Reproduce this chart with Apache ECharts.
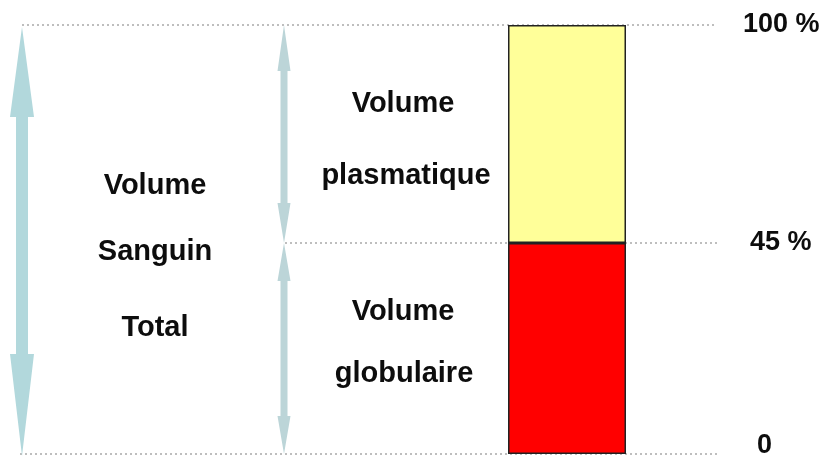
<!DOCTYPE html>
<html><head><meta charset="utf-8">
<script src="https://cdn.jsdelivr.net/npm/echarts@6/dist/echarts.min.js"></script>
<style>html,body{margin:0;padding:0;background:#fff}#c{width:833px;height:460px}</style>
</head><body><div id="c"></div>
<script>
// ---- data ----
const categories = ['Sang'];
const globulaireValues = [45];   // Volume globulaire (0 -> 45 %)
const plasmaBase = [45];         // start of plasma volume
const plasmaValues = [55];       // Volume plasmatique (45 -> 100 %)
const tickValues = [0, 45, 100];
const tickLabels = ['0', '45 %', '100 %'];
const totalLabel = ['Volume', 'Sanguin', 'Total'];
const plasmaLabel = ['Volume', 'plasmatique'];
const globLabel = ['Volume', 'globulaire'];

const FONT = '"Liberation Sans", Arial, sans-serif';
const chart = echarts.init(document.getElementById('c'));
const BAR_L = 508, BAR_R = 626, TOP = 25, MID = 243, BOT = 454;
const labelRich = {
  a: {fontFamily: FONT, fontWeight: 'bold', fontSize: 27, color: '#0d0d0d', padding: [0, 0, 0, 0]},
  b: {fontFamily: FONT, fontWeight: 'bold', fontSize: 27, color: '#0d0d0d', padding: [0, 0, 0, 7]},
  c: {fontFamily: FONT, fontWeight: 'bold', fontSize: 27, color: '#0d0d0d', padding: [0, 0, 16, 14]}
};
function fmt(v) {
  const i = tickValues.indexOf(v);
  if (i < 0) return '';
  const key = i === 2 ? 'a' : (i === 1 ? 'b' : 'c');
  return '{' + key + '|' + tickLabels[i] + '}';
}
const option = {
  animation: false,
  backgroundColor: '#fff',
  grid: [
    {left: BAR_L, right: 833 - BAR_R, top: TOP, height: MID - TOP},
    {left: BAR_L, right: 833 - BAR_R, top: MID, height: BOT - MID}
  ],
  xAxis: [
    {gridIndex: 0, type: 'category', data: categories, show: false},
    {gridIndex: 1, type: 'category', data: categories, show: false}
  ],
  yAxis: [
    {gridIndex: 0, type: 'value', min: 45, max: 100, interval: 5, position: 'right',
     axisLine: {show: false}, axisTick: {show: false}, splitLine: {show: false},
     axisLabel: {margin: 117, align: 'left', showMinLabel: false,
       formatter: v => v === tickValues[2] ? fmt(v) : '', rich: labelRich}},
    {gridIndex: 1, type: 'value', min: 0, max: 45, interval: 45, position: 'right',
     axisLine: {show: false}, axisTick: {show: false}, splitLine: {show: false},
     axisLabel: {margin: 117, align: 'left', formatter: fmt, rich: labelRich}}
  ],
  series: [
    {type: 'bar', name: 'base', xAxisIndex: 0, yAxisIndex: 0, stack: 'p', data: plasmaBase,
     barWidth: '100%', itemStyle: {color: 'rgba(0,0,0,0)'}, silent: true},
    {type: 'bar', name: 'Volume plasmatique', xAxisIndex: 0, yAxisIndex: 0, stack: 'p', data: plasmaValues,
     barWidth: '100%', itemStyle: {color: '#ffff99', borderColor: '#222', borderWidth: 1.5}},
    {type: 'bar', name: 'Volume globulaire', xAxisIndex: 1, yAxisIndex: 1, data: globulaireValues,
     barWidth: '100%', itemStyle: {color: '#ff0000', borderColor: '#222', borderWidth: 1.5}}
  ]
};
chart.setOption(option);

const y100 = chart.convertToPixel({yAxisIndex: 0}, 100);
const y45 = chart.convertToPixel({yAxisIndex: 1}, 45);
const y0 = chart.convertToPixel({yAxisIndex: 1}, 0);

function dotted(x1, x2, y) {
  return {type: 'line', z: 0, shape: {x1: x1, y1: y, x2: x2, y2: y},
    style: {stroke: '#a9a9a9', lineWidth: 1.6, lineDash: [2, 3]}};
}
function arrow(cx, yTop, yBot, shaftHalf, headHalf, headTop, headBot, fill) {
  return {type: 'polygon', z: 1, shape: {points: [
    [cx, yTop], [cx + headHalf, yTop + headTop], [cx + shaftHalf, yTop + headTop],
    [cx + shaftHalf, yBot - headBot], [cx + headHalf, yBot - headBot], [cx, yBot],
    [cx - headHalf, yBot - headBot], [cx - shaftHalf, yBot - headBot],
    [cx - shaftHalf, yTop + headTop], [cx - headHalf, yTop + headTop]]},
    style: {fill: fill}};
}
function txt(s, x, y) {
  return {type: 'text', z: 3, x: x, y: y, style: {text: s, fill: '#0d0d0d',
    font: 'bold 29px ' + FONT, textAlign: 'center', textVerticalAlign: 'middle'}};
}
const graphics = [
  dotted(22, 717, y100), dotted(285, 717, y45), dotted(20, 717, y0),
  arrow(22, y100 + 2, y0 + 2, 6, 12, 90, 102, '#b2d8dc'),
  arrow(284, y100, y45, 3.5, 6.5, 46, 40, '#bcd5d8'),
  arrow(284, y45, y0, 3.5, 6.5, 38, 38, '#bcd5d8'),
  txt(totalLabel[0], 155, 186), txt(totalLabel[1], 155, 252), txt(totalLabel[2], 155, 328),
  txt(plasmaLabel[0], 403, 104), txt(plasmaLabel[1], 406, 176),
  txt(globLabel[0], 403, 312), txt(globLabel[1], 404, 374)
];
chart.setOption({graphic: graphics});
</script></body></html>
